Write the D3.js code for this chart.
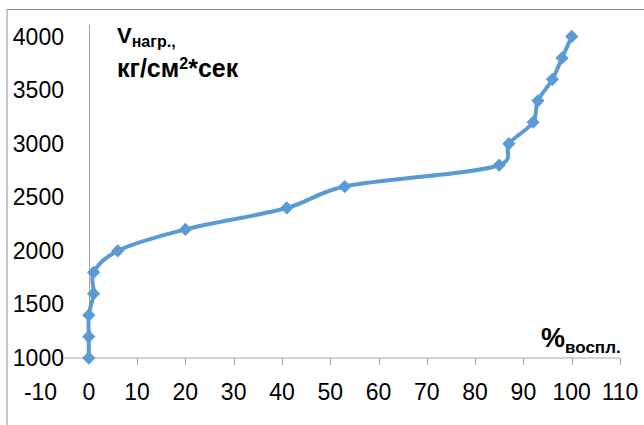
<!DOCTYPE html>
<html>
<head>
<meta charset="utf-8">
<script src="https://cdn.jsdelivr.net/npm/d3@7"></script>
<style>
  body { margin: 0; background: #fff; }
  text { font-family: "Liberation Sans", Arial, sans-serif; }
</style>
</head>
<body>
<div id="chart"></div>
<script>
// Data
const percent = [0, 0, 0, 1, 1, 6, 20, 41, 53, 85, 87, 92, 93, 96, 98, 100];
const speed = [1000, 1200, 1400, 1600, 1800, 2000, 2200, 2400, 2600, 2800, 3000, 3200, 3400, 3600, 3800, 4000];
const xTicks = [-10, 0, 10, 20, 30, 40, 50, 60, 70, 80, 90, 100, 110];
const yTicks = [1000, 1500, 2000, 2500, 3000, 3500, 4000];

const width = 644;
const height = 425;
const blue = "#5b9bd5";

const svg = d3
  .select("#chart")
  .append("svg")
  .attr("width", width)
  .attr("height", height);

// chart frame (only top and left edges are visible)
svg.append("path")
  .attr("d", `M7,${height} V9.5 H${width}`)
  .attr("fill", "none")
  .attr("stroke", "#8c8c8c")
  .attr("stroke-width", 1);

const x = d3.scaleLinear().domain([-10, 110]).range([40.5, 620]);
const y = d3.scaleLinear().domain([1000, 4000]).range([358, 36.5]);

// x axis line + ticks
svg.append("line")
  .attr("x1", 64).attr("x2", x(110))
  .attr("y1", y(1000)).attr("y2", y(1000))
  .attr("stroke", "#a6a6a6").attr("stroke-width", 1);

svg.append("g")
  .selectAll("line")
  .data(xTicks.filter((d) => d > 0))
  .join("line")
  .attr("x1", (d) => Math.round(x(d)) + 0.5)
  .attr("x2", (d) => Math.round(x(d)) + 0.5)
  .attr("y1", y(1000))
  .attr("y2", y(1000) + 7)
  .attr("stroke", "#a6a6a6");

svg.append("g")
  .selectAll("text")
  .data(xTicks)
  .join("text")
  .attr("x", (d) => x(d))
  .attr("y", 400)
  .attr("text-anchor", "middle")
  .attr("font-size", 23)
  .attr("fill", "#000")
  .text((d) => d);

// y axis line at x = 0
svg.append("line")
  .attr("x1", Math.round(x(0)) + 0.5).attr("x2", Math.round(x(0)) + 0.5)
  .attr("y1", 25).attr("y2", y(1000))
  .attr("stroke", "#a6a6a6").attr("stroke-width", 1);

svg.append("g")
  .selectAll("text")
  .data(yTicks)
  .join("text")
  .attr("x", 64)
  .attr("y", (d) => y(d) + 8)
  .attr("text-anchor", "end")
  .attr("font-size", 23)
  .attr("fill", "#000")
  .text((d) => d);

// series
const pts = percent.map((p, i) => [p, speed[i]]);

const line = d3
  .line()
  .x((d) => x(d[0]))
  .y((d) => y(d[1]))
  .curve(d3.curveCatmullRom.alpha(0.2));

svg.append("path")
  .datum(pts)
  .attr("d", line)
  .attr("fill", "none")
  .attr("stroke", blue)
  .attr("stroke-width", 4)
  .attr("stroke-linejoin", "round");

svg.append("g")
  .selectAll("path")
  .data(pts)
  .join("path")
  .attr("d", d3.symbol(d3.symbolSquare, 88))
  .attr("transform", (d) => `translate(${x(d[0])},${y(d[1])}) rotate(45)`)
  .attr("fill", blue);

// axis titles
const yTitle = svg.append("text")
  .attr("x", 117)
  .attr("y", 43)
  .attr("font-weight", "bold")
  .attr("font-size", 22);
yTitle.append("tspan").text("V");
yTitle.append("tspan").attr("font-size", 16).attr("dy", 4).text("нагр.,");

const yTitle2 = svg.append("text")
  .attr("x", 117)
  .attr("y", 77)
  .attr("font-weight", "bold")
  .attr("font-size", 25);
yTitle2.append("tspan").text("кг/см");
yTitle2.append("tspan").attr("font-size", 16).attr("dy", -8).text("2");
yTitle2.append("tspan").attr("dy", 8).text("*сек");

const xTitle = svg.append("text")
  .attr("x", 541)
  .attr("y", 347)
  .attr("font-weight", "bold")
  .attr("font-size", 27);
xTitle.append("tspan").text("%");
xTitle.append("tspan").attr("font-size", 17).attr("dy", 6).text("воспл.");
</script>
</body>
</html>
